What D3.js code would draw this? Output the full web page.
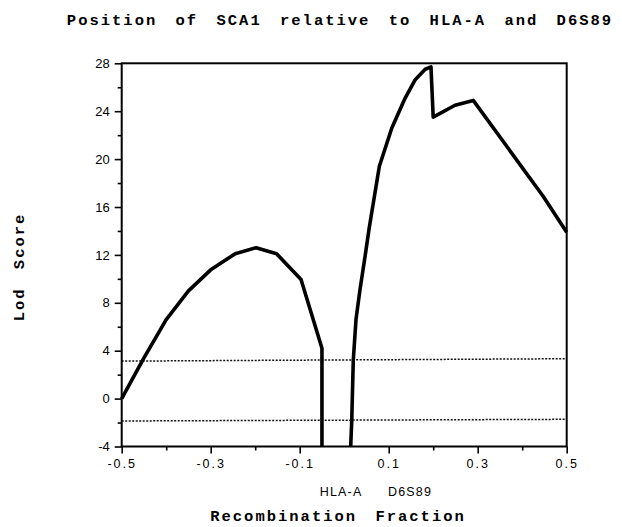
<!DOCTYPE html>
<html>
<head>
<meta charset="UTF-8">
<title>Position of SCA1 relative to HLA-A and D6S89</title>
<script src="https://d3js.org/d3.v7.min.js"></script>
<style>
    body { margin: 0; background: #fff; }
    .mono { font-family: "Liberation Mono", "DejaVu Sans Mono", monospace; font-weight: bold; font-size: 15.5px; letter-spacing: 2px; word-spacing: 7px; fill: #000; }
    .lod { fill: none; stroke: #000; stroke-width: 3.6px; stroke-linejoin: round; }
    .thresh { fill: none; stroke: #111; stroke-width: 1.5px; stroke-dasharray: 2,1.5; }
    .frame { fill: none; stroke: #000; stroke-width: 2px; }
    .tick line { stroke: #000; stroke-width: 1.6px; }
    .tick text { font-family: "Liberation Sans", Arial, sans-serif; fill: #000; }
</style>
</head>
<body>
<svg id="chart" width="622" height="527"></svg>
<script>
    // left piece (towards HLA-A)
    const leftFrac = [-0.5, -0.45, -0.4, -0.35, -0.3, -0.245, -0.198, -0.152, -0.097, -0.05, -0.05];
    const leftLod  = [0, 3.4, 6.6, 9.0, 10.75, 12.1, 12.6, 12.1, 9.95, 4.2, -4];

    // right piece (beyond D6S89)
    const rightFrac = [0.0146, 0.017, 0.0204, 0.0265, 0.0355, 0.047, 0.056, 0.079, 0.107, 0.137, 0.159, 0.182, 0.195, 0.2, 0.249, 0.29, 0.447, 0.5];
    const rightLod  = [-4, -1.8, 3.2, 6.6, 9.1, 11.9, 14.2, 19.4, 22.6, 25.1, 26.6, 27.5, 27.7, 23.5, 24.5, 24.9, 16.9, 13.9];

    // dotted threshold lines
    const threshFrac = [-0.5, 0.5];
    const upperLod = [3.13, 3.33];
    const lowerLod = [-1.87, -1.73];

    const xMajor = [-0.5, -0.3, -0.1, 0.1, 0.3, 0.5];
    const xMinor = [-0.4, -0.2, 0.2, 0.4];
    const yMajor = [-4, 0, 4, 8, 12, 16, 20, 24, 28];
    const yMinor = [-2, 2, 6, 10, 14, 18, 22, 26];

    const markerNames = ["HLA-A", "D6S89"];
    const markerFrac = [-0.007, 0.148];

    const svg = d3.select("#chart");
    const plotL = 121.7, plotR = 566.7, plotT = 63.3, plotB = 446.5;

    const x = d3.scaleLinear().domain([-0.5, 0.5]).range([plotL, plotR]);
    const y = d3.scaleLinear().domain([-4, 28]).range([plotB, plotT]);

    svg.append("rect").attr("width", 622).attr("height", 527).attr("fill", "#fff");

    const line = d3.line().x(d => x(d[0])).y(d => y(d[1]));

    // thresholds
    [upperLod, lowerLod].forEach(v => {
        svg.append("path")
            .attr("class", "thresh")
            .attr("d", line(d3.zip(threshFrac, v)));
    });

    // lod curves
    svg.append("path").attr("class", "lod").attr("d", line(d3.zip(leftFrac, leftLod)));
    svg.append("path").attr("class", "lod").attr("d", line(d3.zip(rightFrac, rightLod)));

    // frame
    svg.append("rect")
        .attr("class", "frame")
        .attr("x", plotL).attr("y", plotT)
        .attr("width", plotR - plotL).attr("height", plotB - plotT);

    // x axis
    const gx = svg.append("g").attr("transform", "translate(0," + plotB + ")");
    gx.call(d3.axisBottom(x).tickValues(xMajor).tickSize(7).tickPadding(6).tickFormat(d => d.toFixed(1)));
    gx.append("g").call(d3.axisBottom(x).tickValues(xMinor).tickSize(4).tickFormat(""));
    gx.selectAll(".domain").remove();
    gx.selectAll("text").style("font-size", "12.5px").style("letter-spacing", "2px");

    // y axis
    const gy = svg.append("g").attr("transform", "translate(" + plotL + ",0)");
    gy.call(d3.axisLeft(y).tickValues(yMajor).tickSize(7).tickPadding(5).tickFormat(d => String(d)));
    gy.append("g").call(d3.axisLeft(y).tickValues(yMinor).tickSize(4).tickFormat(""));
    gy.selectAll(".domain").remove();
    gy.selectAll("text").style("font-size", "13px");

    // marker names under the axis
    svg.selectAll(".marker")
        .data(markerNames)
        .enter()
        .append("text")
        .attr("class", "marker")
        .attr("x", (d, i) => x(markerFrac[i]))
        .attr("y", 496)
        .attr("text-anchor", "middle")
        .style("font-family", "'Liberation Sans', Arial, sans-serif")
        .style("font-size", "12.5px")
        .style("letter-spacing", "1.2px")
        .text(d => d);

    // titles
    svg.append("text").attr("class", "mono")
        .attr("x", 340).attr("y", 25).attr("text-anchor", "middle")
        .text("Position of SCA1 relative to HLA-A and D6S89");

    svg.append("text").attr("class", "mono")
        .attr("x", 338).attr("y", 521).attr("text-anchor", "middle")
        .text("Recombination Fraction");

    svg.append("text").attr("class", "mono")
        .attr("transform", "translate(24,267) rotate(-90)")
        .attr("text-anchor", "middle")
        .text("Lod Score");
</script>
</body>
</html>
